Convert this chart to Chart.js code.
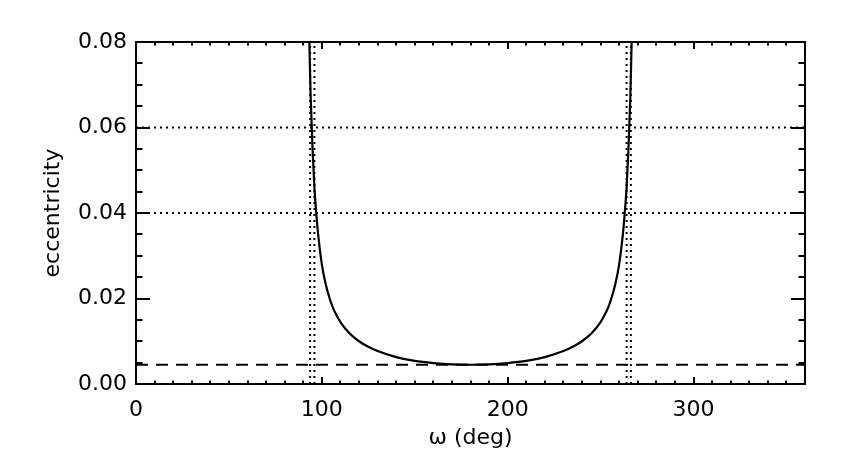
<!DOCTYPE html>
<html>
<head>
<meta charset="utf-8">
<script src="https://cdn.jsdelivr.net/npm/chart.js@4"></script>
<style>
html,body{margin:0;padding:0;background:#fff;}
#wrap{width:847px;height:470px;}
</style>
</head>
<body>
<div id="wrap"><canvas id="c" width="847" height="470"></canvas></div>
<script>
// ---- data ----
const omega = [93.0, 93.5, 94, 95, 96, 97, 98, 100, 102, 104, 106, 108, 110, 115, 120, 125, 130, 140, 150, 160, 170, 180,
               190, 200, 210, 220, 230, 235, 240, 245, 250, 252, 254, 256, 258, 260, 262, 263, 264, 265, 266, 266.5, 267];
const ecc = [0.086, 0.076, 0.067, 0.055, 0.046, 0.040, 0.035, 0.028, 0.0235, 0.0203, 0.0178, 0.0160, 0.0145, 0.0118, 0.0100, 0.0087, 0.0077, 0.0063, 0.0054, 0.0049, 0.0046, 0.0045,
             0.0046, 0.0049, 0.0054, 0.0063, 0.0077, 0.0087, 0.0100, 0.0118, 0.0145, 0.0160, 0.0178, 0.0203, 0.0235, 0.028, 0.035, 0.040, 0.046, 0.055, 0.067, 0.076, 0.086];
const eLimit = 0.0045;
const hDotted = [0.04, 0.06];
const vDotted = [93.7, 96.0, 264.0, 266.3];
const xTicks = [0, 100, 200, 300];
const yTicks = [0.00, 0.02, 0.04, 0.06, 0.08];
const xRange = [0, 360];
const yRange = [0, 0.08];
const xMinorStep = 10;
const yMinorStep = 0.005;

// ---- build datasets ----
const datasets = [];
hDotted.forEach(v => datasets.push({
  data: [{x: xRange[0], y: v}, {x: xRange[1], y: v}],
  borderColor: '#000', borderWidth: 2, borderDash: [2, 4], showLine: true, pointRadius: 0
}));
vDotted.forEach(v => datasets.push({
  data: [{x: v, y: yRange[0]}, {x: v, y: yRange[1]}],
  borderColor: '#000', borderWidth: 2, borderDash: [2, 4], showLine: true, pointRadius: 0
}));
datasets.push({
  data: [{x: xRange[0], y: eLimit}, {x: xRange[1], y: eLimit}],
  borderColor: '#000', borderWidth: 2, borderDash: [12, 8], showLine: true, pointRadius: 0
});
datasets.push({
  data: omega.map((w, i) => ({x: w, y: ecc[i]})),
  borderColor: '#000', borderWidth: 2.2, showLine: true, pointRadius: 0,
  cubicInterpolationMode: 'monotone'
});

const frame = {
  id: 'frame',
  afterDatasetsDraw(chart) {
    const ctx = chart.ctx, a = chart.chartArea;
    const xs = chart.scales.x, ys = chart.scales.y;
    ctx.save();
    ctx.strokeStyle = '#000';
    ctx.lineWidth = 2;
    ctx.strokeRect(a.left, a.top, a.right - a.left, a.bottom - a.top);
    ctx.beginPath();
    for (let k = 0; k * xMinorStep <= xRange[1] + 1e-9; k++) {
      const v = xRange[0] + k * xMinorStep;
      const px = Math.round(xs.getPixelForValue(v));
      const major = (Math.abs(v % 100) < 1e-9);
      const len = major ? 7 : 3.5;
      ctx.moveTo(px, a.bottom); ctx.lineTo(px, a.bottom - len);
      ctx.moveTo(px, a.top); ctx.lineTo(px, a.top + len);
    }
    const n = Math.round((yRange[1] - yRange[0]) / yMinorStep);
    for (let k = 0; k <= n; k++) {
      const v = yRange[0] + k * yMinorStep;
      const py = Math.round(ys.getPixelForValue(v));
      const major = (k % 4 === 0);
      const len = major ? 14 : 6.5;
      ctx.moveTo(a.left, py); ctx.lineTo(a.left + len, py);
      ctx.moveTo(a.right, py); ctx.lineTo(a.right - len, py);
    }
    ctx.stroke();
    ctx.restore();
  }
};

Chart.defaults.font.family = "'DejaVu Sans', sans-serif";
Chart.defaults.font.size = 22;
Chart.defaults.color = '#000';

new Chart(document.getElementById('c'), {
  type: 'scatter',
  data: { datasets },
  plugins: [frame],
  options: {
    responsive: false,
    animation: false,
    devicePixelRatio: 1,
    layout: { padding: { left: 0, right: 42, top: 42, bottom: 0 } },
    plugins: { legend: { display: false }, tooltip: { enabled: false } },
    scales: {
      x: {
        type: 'linear', min: xRange[0], max: xRange[1],
        grid: { display: false, drawTicks: false }, border: { display: false },
        afterBuildTicks: s => { s.ticks = xTicks.map(v => ({value: v})); },
        afterFit: s => { s.height = 86; },
        ticks: { padding: 13, maxRotation: 0, autoSkip: false, font: {size: 22} },
        title: { display: true, text: 'ω (deg)', font: {size: 22}, padding: {top: 0, bottom: 19} }
      },
      y: {
        type: 'linear', min: yRange[0], max: yRange[1],
        grid: { display: false, drawTicks: false }, border: { display: false },
        afterBuildTicks: s => { s.ticks = yTicks.map(v => ({value: v})); },
        afterFit: s => { s.width = 136; },
        ticks: { padding: 9, autoSkip: false, callback: v => Number(v).toFixed(2), font: {size: 22} },
        title: { display: true, text: 'eccentricity', font: {size: 22}, padding: {top: 40, bottom: 0} }
      }
    }
  }
});
</script>
</body>
</html>
